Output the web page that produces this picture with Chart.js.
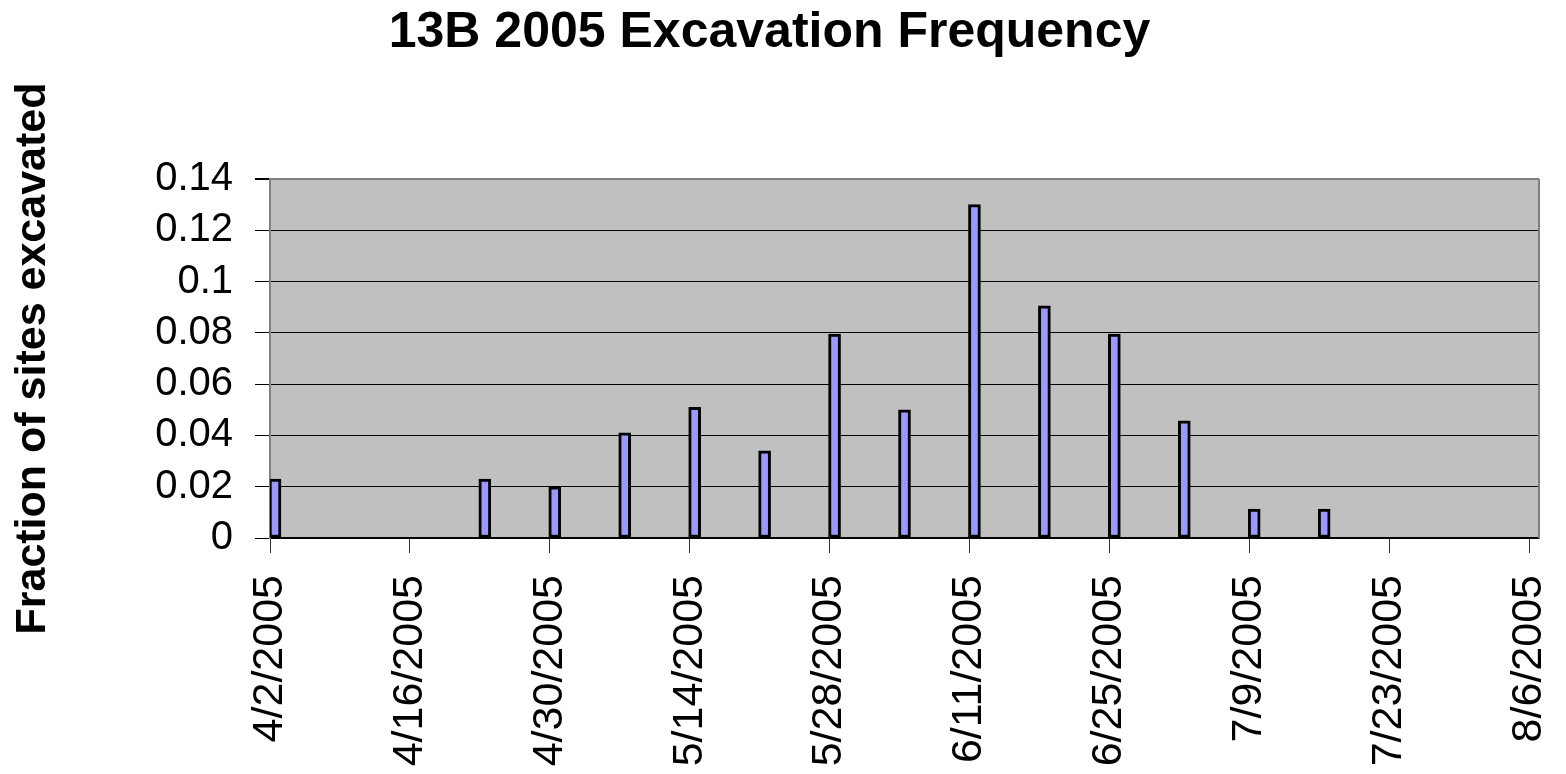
<!DOCTYPE html>
<html>
<head>
<meta charset="utf-8">
<script src="https://cdn.jsdelivr.net/npm/chart.js@4.4.1/dist/chart.umd.min.js"></script>
<style>
  html, body { margin: 0; padding: 0; background: #fff; }
  #wrap { width: 1566px; height: 774px; }
</style>
</head>
<body>
<div id="wrap"><canvas id="chart"></canvas></div>
<script>
// Excavation dates and the fraction of sites dug on each
const dates = ['4/2/2005', '4/23/2005', '4/30/2005', '5/7/2005', '5/14/2005', '5/21/2005', '5/28/2005',
               '6/4/2005', '6/11/2005', '6/18/2005', '6/25/2005', '7/2/2005', '7/9/2005', '7/16/2005'];
const fractions = [0.023, 0.023, 0.020, 0.041, 0.051, 0.034, 0.0795,
                   0.050, 0.130, 0.0905, 0.0795, 0.0457, 0.0113, 0.0113];

// Axis tick labels
const xTickLabels = ['4/2/2005', '4/16/2005', '4/30/2005', '5/14/2005', '5/28/2005', '6/11/2005',
                     '6/25/2005', '7/9/2005', '7/23/2005', '8/6/2005'];
const yTickLabels = ['0', '0.02', '0.04', '0.06', '0.08', '0.1', '0.12', '0.14'];

const FONT = "'Liberation Sans', Arial, sans-serif";
const DAY = 86400000;
const START = Date.UTC(2005, 3, 2);

// days since 4/2/2005
function dayOf(str) {
    const [m, d, y] = str.split('/').map(Number);
    return (Date.UTC(y, m - 1, d) - START) / DAY;
}

const points = dates.map((d, i) => ({ x: dayOf(d), y: fractions[i] }));

// Plot background and right-hand frame
const plotFrame = {
    id: 'plotFrame',
    beforeDraw(chart) {
        const { ctx, chartArea: a } = chart;
        ctx.save();
        ctx.fillStyle = '#C0C0C0';
        ctx.fillRect(a.left, a.top, a.right - a.left, a.bottom - a.top);
        ctx.restore();
    },
    beforeDatasetsDraw(chart) {
        const { ctx, chartArea: a } = chart;
        ctx.save();
        ctx.strokeStyle = '#808080';
        ctx.lineWidth = 2;
        ctx.beginPath();
        ctx.moveTo(a.right, a.top);
        ctx.lineTo(a.right, a.bottom);
        ctx.stroke();
        ctx.restore();
    }
};

new Chart(document.getElementById('chart'), {
    type: 'bar',
    data: {
        datasets: [{
            data: points,
            xAxisID: 'xBar',
            backgroundColor: '#9999FF',
            borderColor: '#000000',
            borderWidth: 3,
            borderSkipped: false,
            barThickness: 12
        }]
    },
    options: {
        responsive: true,
        maintainAspectRatio: false,
        animation: false,
        layout: { padding: { left: 0, right: 27, top: 0, bottom: 0 } },
        plugins: {
            legend: { display: false },
            tooltip: { enabled: false },
            title: {
                display: true,
                text: '13B 2005 Excavation Frequency',
                color: '#000',
                font: { family: FONT, size: 50, weight: 'bold', lineHeight: 1.2 },
                padding: { top: 3, bottom: 116 }
            }
        },
        scales: {
            x: {
                type: 'linear',
                offset: false,
                min: 0,
                max: 127,
                // one tick every two weeks, one per label
                afterBuildTicks(scale) {
                    scale.ticks = xTickLabels.map((_, i) => ({ value: dayOf(xTickLabels[i]) }));
                },
                afterFit(scale) {
                    scale.height = 236;
                    scale.paddingLeft = 0;
                    scale.paddingRight = 0;
                },
                ticks: {
                    autoSkip: false,
                    maxRotation: 90,
                    minRotation: 90,
                    padding: 22,
                    color: '#000',
                    font: { family: FONT, size: 43 },
                    callback: (v) => xTickLabels[Math.round(v / 14)]
                },
                grid: {
                    offset: false,
                    drawOnChartArea: false,
                    drawTicks: true,
                    tickLength: 15,
                    tickColor: '#333'
                },
                border: { display: true, color: '#000', width: 1.5 }
            },
            xBar: {
                type: 'linear',
                display: false,
                offset: false,
                min: -0.5,
                max: 126.5
            },
            y: {
                min: 0,
                max: 0.14,
                afterFit(scale) { scale.width = 270; },
                ticks: {
                    stepSize: 0.02,
                    padding: 22,
                    color: '#000',
                    font: { family: FONT, size: 40 },
                    callback: (v) => yTickLabels[Math.round(v / 0.02)]
                },
                grid: {
                    color: (c) => (c.tick && Math.round(c.tick.value / 0.02) === 7) ? '#808080' : '#000',
                    lineWidth: (c) => (c.tick && Math.round(c.tick.value / 0.02) === 7) ? 2 : 1,
                    tickLength: 15,
                    tickColor: '#000'
                },
                border: { display: true, color: '#808080', width: 2 },
                title: {
                    display: true,
                    text: 'Fraction of sites excavated',
                    color: '#000',
                    font: { family: FONT, size: 43, weight: 'bold', lineHeight: 1.2 },
                    padding: { top: 7, bottom: 0 }
                }
            }
        }
    },
    plugins: [plotFrame]
});
</script>
</body>
</html>
